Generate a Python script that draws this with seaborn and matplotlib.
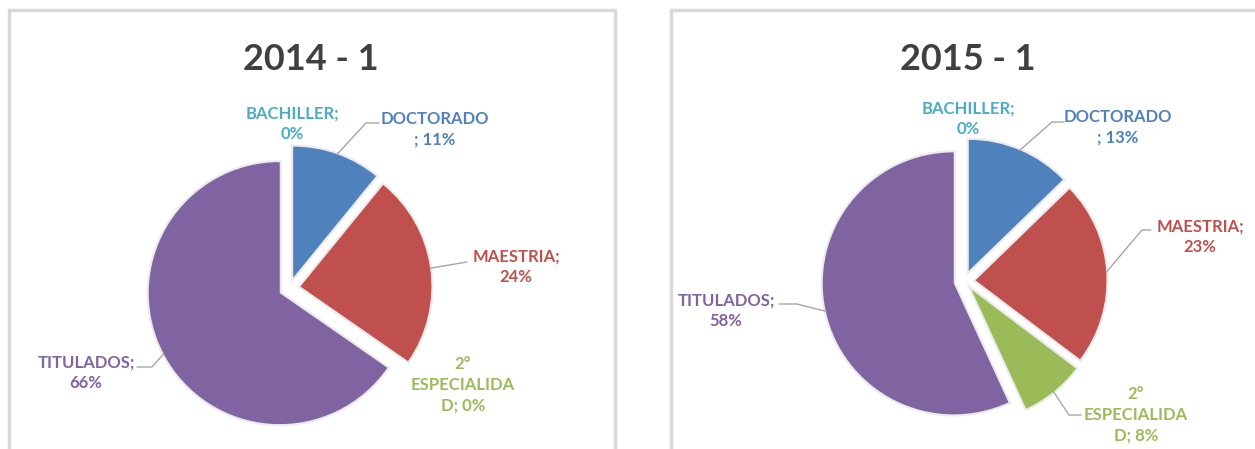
import matplotlib
matplotlib.use("Agg")
import matplotlib.pyplot as plt
import matplotlib.patheffects as pe
import numpy as np
import seaborn as sns

# data
categories = ["BACHILLER", "DOCTORADO", "MAESTRIA", "2°\nESPECIALIDA\nD", "TITULADOS"]
values_2014 = [0, 11, 24, 0, 66]
values_2015 = [0, 13, 23, 8, 58]
titles = ["2014 - 1", "2015 - 1"]

colors = ["#4BACC6", "#4F81BD", "#C0504D", "#9BBB59", "#8064A2"]

sns.set_theme(style="white")
plt.rcParams["font.family"] = ["Lato", "DejaVu Sans"]

W, H = 1255, 449
fig = plt.figure(figsize=(W / 100, H / 100), dpi=100)
ax = fig.add_axes([0, 0, 1, 1])


def Y(y):
    return H - y


# chart boxes
border = "#D9D9D9"
ax.plot([9, 9, 615, 615], [Y(452), Y(10), Y(10), Y(452)], color=border, lw=2.5, solid_joinstyle="miter")
ax.plot([671, 671, 1260], [Y(452), Y(10), Y(10)], color=border, lw=2.5, solid_joinstyle="miter")


def label_text(name, v):
    if name == "DOCTORADO":
        return f"{name}\n; {v}%"
    if name.endswith("D"):
        return f"{name}; {v}%"
    return f"{name};\n{v}%"


# layout per chart: pie center, title x, label centres, leader (elbow, end)
layouts = [
    dict(center=(289.5, 288), title_x=311,
         labels=[(292, 124), (435, 129), (516, 267), (463, 385), (86, 373)],
         leaders=[None, ((366, 123), (379, 123)), ((467, 262), (467, 262)), None,
                  ((152, 367), (137, 367))]),
    dict(center=(964.5, 281), title_x=968,
         labels=[(968, 119), (1118, 127), (1200, 237), (1136, 415), (726, 311)],
         leaders=[None, ((1052, 122), (1064, 122)), ((1142, 230), (1151, 230)),
                  ((1069, 415), (1081, 415)), ((797, 304), (779, 304))]),
]

radius = 131
gap = 11
for vals, title, lay in zip([values_2014, values_2015], titles, layouts):
    cx, cy = lay["center"]
    wedges, _ = ax.pie(vals, colors=colors, startangle=90, counterclock=False,
                       explode=[gap] * len(vals), radius=radius,
                       center=(cx, Y(cy)), frame=True,
                       wedgeprops=dict(linewidth=0))
    for w, v in zip(wedges, vals):
        if v > 0:
            w.set_path_effects([pe.Stroke(linewidth=3, foreground="#EBEBEB"), pe.Normal()])
        else:
            w.set_visible(False)

    ax.text(lay["title_x"], Y(59), title, ha="center", va="center",
            fontsize=26, fontweight="bold", color="#404040")

    for w, name, v, col, (lx, ly), lead in zip(wedges, categories, vals, colors,
                                               lay["labels"], lay["leaders"]):
        ax.text(lx, Y(ly), label_text(name, v), ha="center", va="center",
                multialignment="center", fontsize=12, fontweight="bold",
                color=col, linespacing=1.38)
        if lead is not None:
            ang = np.deg2rad((w.theta1 + w.theta2) / 2)
            sx = w.center[0] + w.r * np.cos(ang)
            sy = w.center[1] + w.r * np.sin(ang)
            (ex, ey), (fx, fy) = lead
            ax.plot([sx, ex, fx], [sy, Y(ey), Y(fy)], color="#A6A6A6", lw=1)

ax.set_xlim(0, W)
ax.set_ylim(0, H)
ax.set_aspect("auto")
ax.set_axis_off()

fig.savefig("out.png", dpi=100, facecolor="white")
